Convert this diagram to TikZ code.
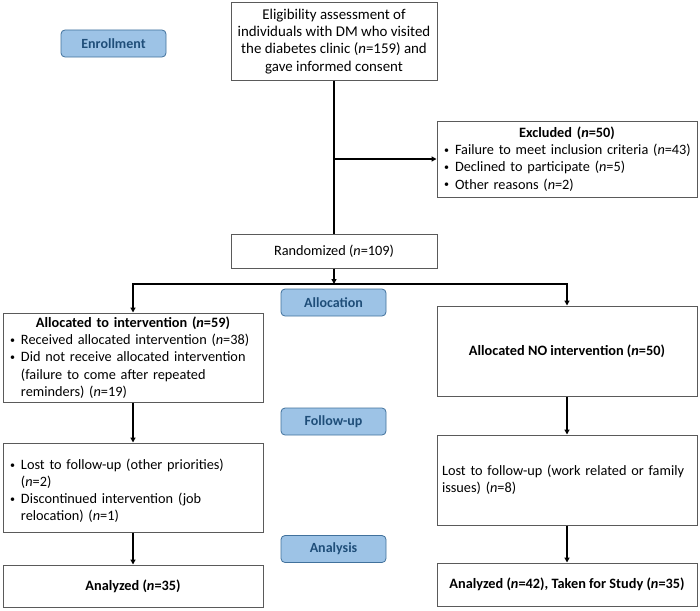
\documentclass[tikz,border=0pt]{standalone}
\usepackage{fontspec}
\setmainfont{Carlito}
\usepackage{enumitem}
\usetikzlibrary{arrows.meta,positioning}
\definecolor{pillfill}{HTML}{9DC3E6}
\definecolor{pilldraw}{HTML}{41719C}
\definecolor{pilltext}{HTML}{1F4E79}
\definecolor{boxdraw}{HTML}{5A5A5A}
\newcommand{\nn}{\textit{n}}
\newcommand{\smbullet}{\raisebox{1.3pt}{\fontsize{10}{10}\selectfont\textbullet}}
\hyphenpenalty=10000\relax
\exhyphenpenalty=10000\relax
\begin{document}
\begin{tikzpicture}[x=1pt,y=-1pt,
  font=\fontsize{14.3}{17.2}\selectfont,
  box/.style={draw=boxdraw, line width=1pt, fill=white, inner xsep=5pt, inner ysep=3pt, align=center},
  wbox/.style={box, minimum width=260pt},
  tbox/.style={box, minimum width=260pt, text width=250pt, align=left},
  pill/.style={draw=pilldraw, line width=0.8pt, fill=pillfill, rounded corners=4pt,
    minimum width=105pt, minimum height=27pt, text=pilltext, font=\fontsize{14}{16}\selectfont\bfseries},
  arr/.style={line width=1.5pt, -{Triangle[length=5pt,width=5pt]}},
  ln/.style={line width=1.5pt}]
\useasboundingbox (0,0) rectangle (700,610);
\setlist[itemize]{nosep,leftmargin=13pt,labelsep=6pt,label=\smbullet}
% pills
\node[pill] (penr) at (113.5,43.5) {Enrollment};
\node[pill] (palloc) at (333.5,302.5) {Allocation};
\node[pill] (pfollow) at (333.5,421.5) {Follow-up};
\node[pill] (pana) at (333.5,549) {Analysis};
% boxes
\node[box, minimum width=206pt, minimum height=77pt, font=\fontsize{14.9}{17.2}\selectfont] (top) at (334,41.5)
  {Eligibility assessment of\\ individuals with DM who visited\\ the diabetes clinic (\nn=159) and\\ gave informed consent};
\node[tbox, minimum height=76pt] (excl) at (567,159)
  {\centering\textbf{Excluded (\nn=50)}\par
   \begin{itemize}
   \item Failure to meet inclusion criteria (\nn=43)
   \item Declined to participate (\nn=5)
   \item Other reasons (\nn=2)
   \end{itemize}};
\node[box, minimum width=206pt, minimum height=34pt] (rand) at (334,251) {Randomized (\nn=109)};
\node[tbox, minimum height=89pt] (la) at (133,357.5)
  {\centering\textbf{Allocated to intervention (\nn=59)}\par
   \begin{itemize}
   \item Received allocated intervention (\nn=38)
   \item Did not receive allocated intervention\newline (failure to come after repeated\newline reminders) (\nn=19)
   \end{itemize}};
\node[wbox, minimum height=90pt] (ra) at (567,351) {\textbf{Allocated NO intervention (\nn=50)}};
\node[tbox, minimum height=89pt] (lf) at (133,487.5)
  {\begin{itemize}
   \item Lost to follow-up (other priorities)\newline (\nn=2)
   \item Discontinued intervention (job\newline relocation) (\nn=1)
   \end{itemize}};
\node[tbox, minimum height=90pt] (rf) at (567,480)
  {Lost to follow-up (work related or family\newline issues) (\nn=8)};
\node[wbox, minimum height=42pt] (lan) at (133,586) {\textbf{Analyzed (\nn=35)}};
\node[wbox, minimum height=43pt] (ran) at (567,584.5) {\textbf{Analyzed (\nn=42), Taken for Study (\nn=35)}};
% connectors
\coordinate (split) at (334,284);
\draw[ln] (top.south) -- (rand.north);
\draw[arr] (top.south |- excl.west) -- (excl.west);
\draw[arr] (rand.south) -- (split);
\draw[arr] (split) -| (la.north);
\draw[arr] (split) -| (ra.north);
\draw[arr] (la.south) -- (lf.north);
\draw[arr] (lf.south) -- (lan.north);
\draw[arr] (ra.south) -- (rf.north);
\draw[arr] (rf.south) -- (ran.north);
\end{tikzpicture}
\end{document}
